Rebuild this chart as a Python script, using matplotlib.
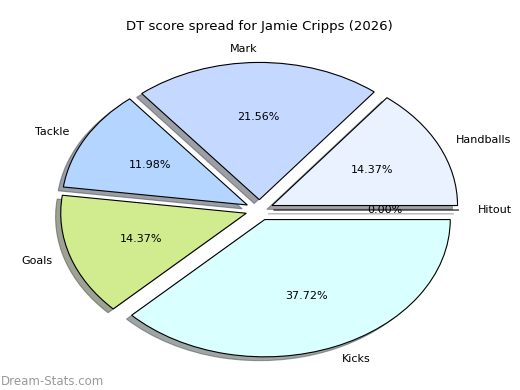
import matplotlib
matplotlib.use('Agg')
import matplotlib.pyplot as plt

LABELS = ['Handballs', 'Mark', 'Tackle', 'Goals', 'Kicks', 'Hitout']
POINTS = [48, 72, 40, 48, 126, 0]  # DT points per stat
COLORS = ['#eaf1ff', '#c5d8ff', '#b3d5ff', '#d1ec8e', '#d9ffff', '#ffe0e0']
TITLE = 'DT score spread for Jamie Cripps (2026)'


def main():
    fig = plt.figure(figsize=(5.2, 3.9), dpi=100)
    ax = fig.add_axes([0.053, 0.0215, 0.892, 0.880])
    ax.pie(POINTS, labels=LABELS, colors=COLORS, explode=[0.075] * len(POINTS),
           autopct='%1.2f%%', shadow=True, startangle=0,
           wedgeprops={'edgecolor': 'black', 'linewidth': 0.8},
           textprops={'fontsize': 8})
    ax.set_aspect('auto')
    ax.set_xlim(-1.25, 1.25)
    ax.set_ylim(-1.25, 1.25)
    ax.set_title(TITLE, fontsize=9.5)
    fig.text(0.002, 0.012, 'Dream-Stats.com', color='#999999', fontsize=8.5)
    fig.savefig('out.png', dpi=100)


if __name__ == '__main__':
    main()
